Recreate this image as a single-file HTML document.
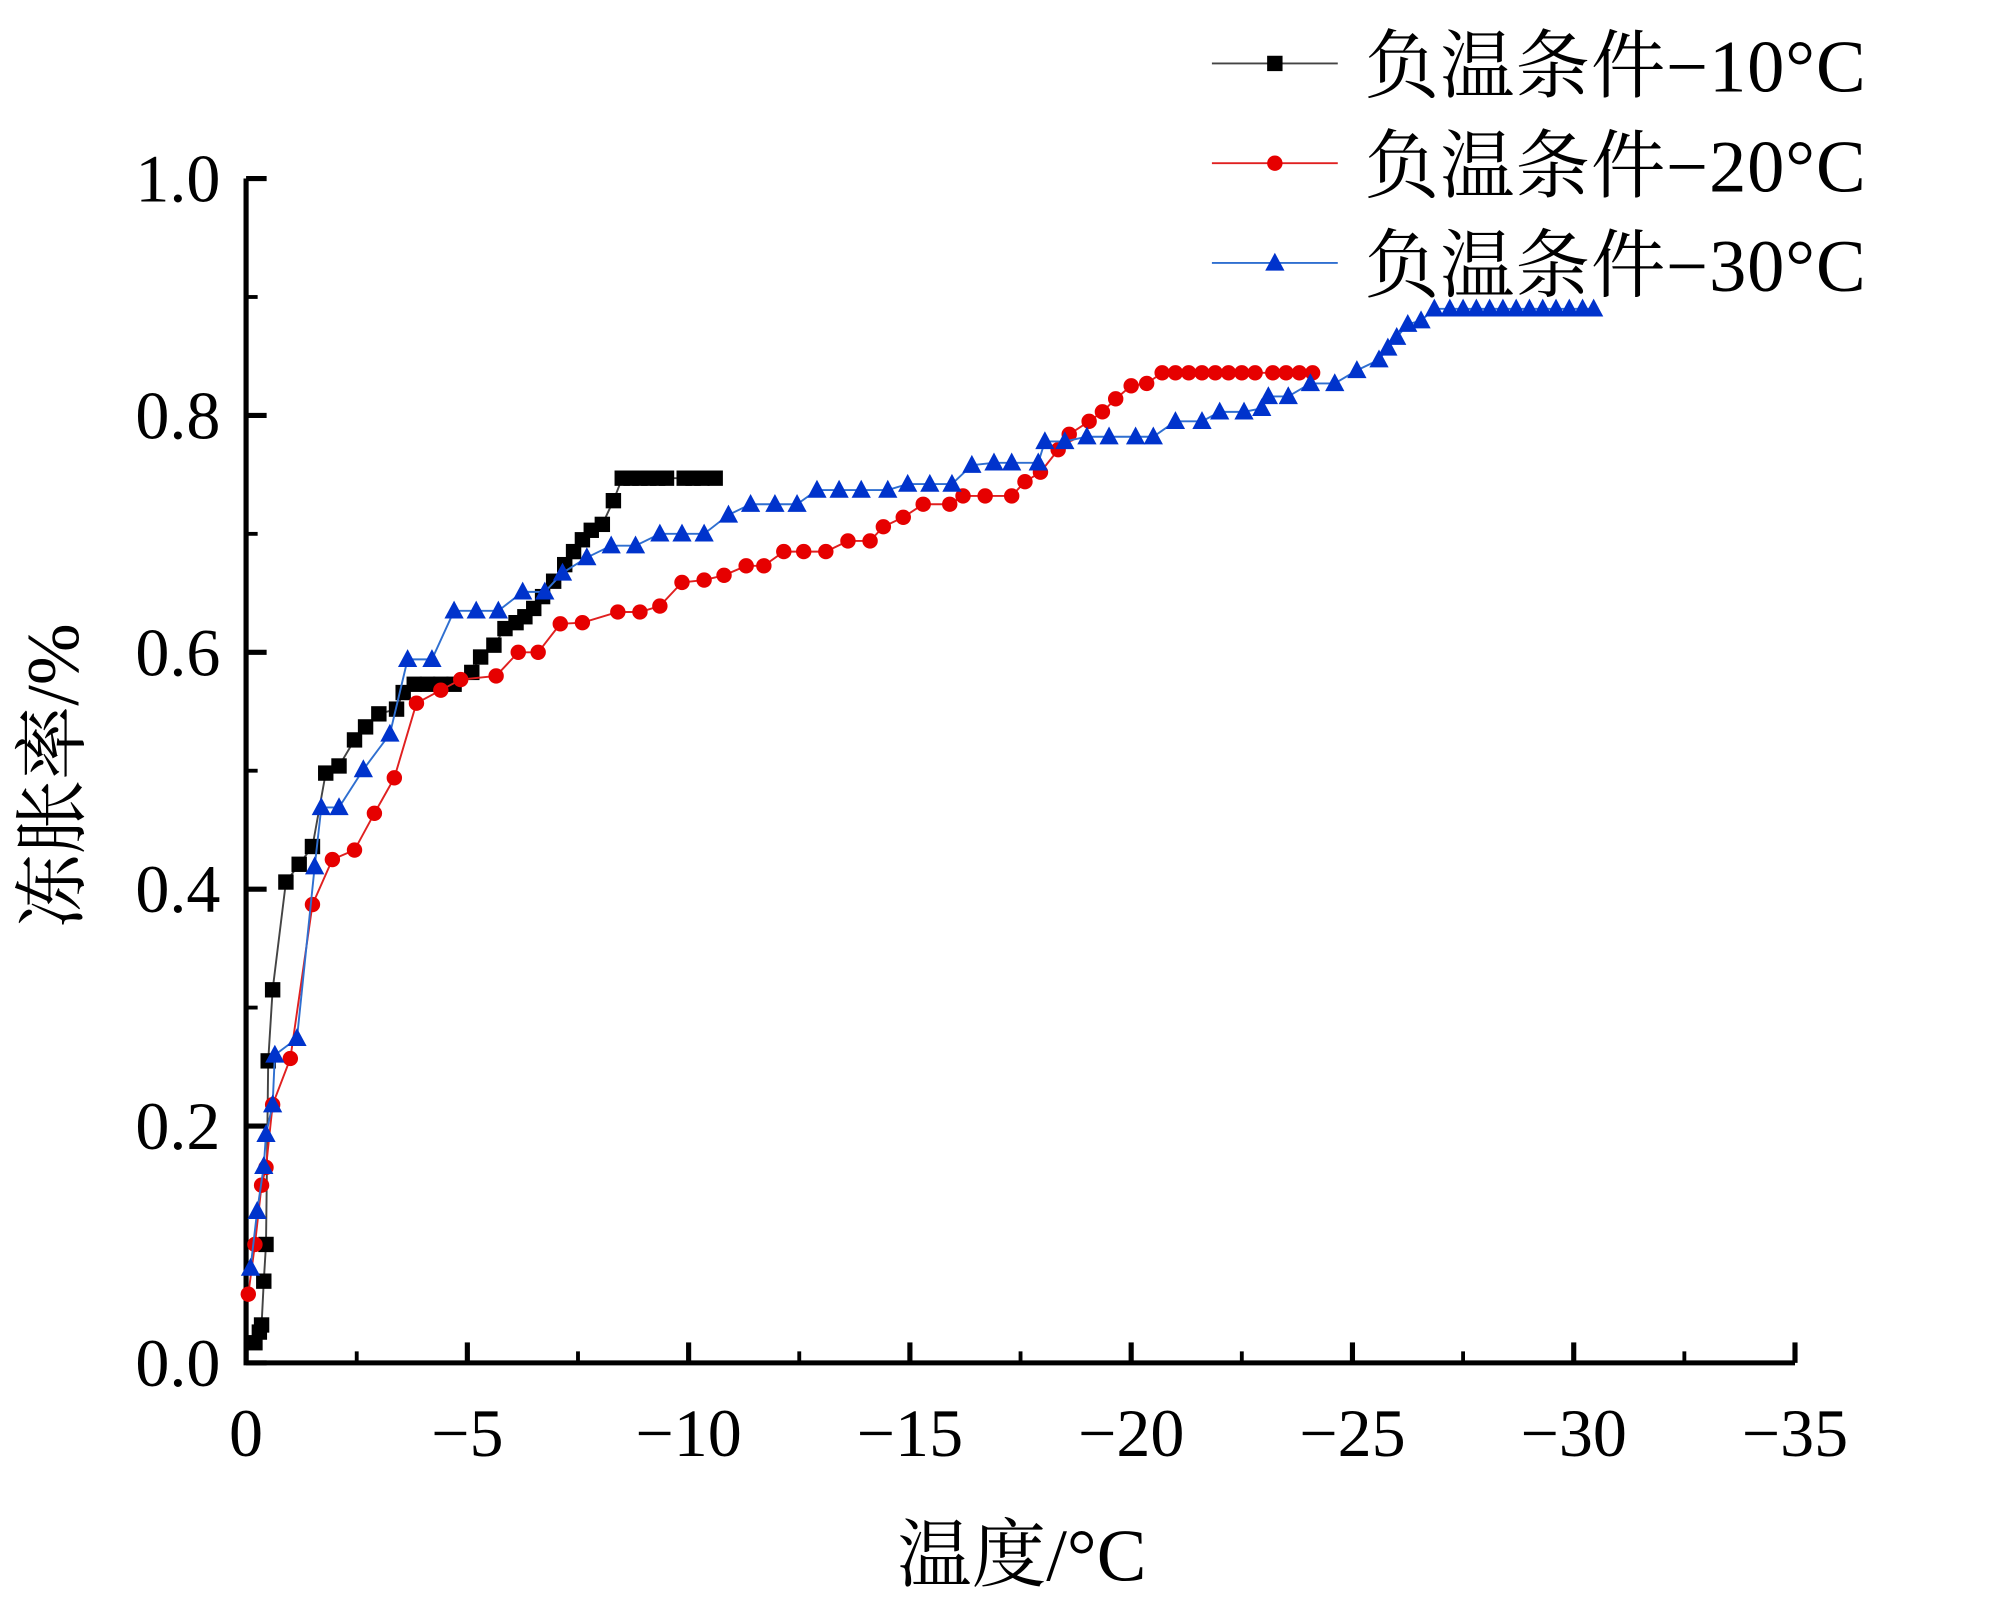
<!DOCTYPE html>
<html><head><meta charset="utf-8"><style>
html,body{margin:0;padding:0;background:#fff;}
svg{display:block;}
text{font-family:"Liberation Serif","Noto Serif CJK SC",serif;fill:#000;}
</style></head><body>
<svg id="chart" width="2010" height="1600" viewBox="1.4 -1.6 1565 1251" preserveAspectRatio="none" xmlns="http://www.w3.org/2000/svg">
<g id="axes"></g>
<g id="series"></g>
<g id="legend"></g>
<text x="797" y="1234" font-size="58" text-anchor="middle">温度/°C</text>
<text transform="translate(62,605) rotate(-90)" font-size="58" text-anchor="middle">冻胀率/%</text>
</svg>
<script>
const xTicks = [0,-5,-10,-15,-20,-25,-30,-35];
const xTickLabels = ["0","\u22125","\u221210","\u221215","\u221220","\u221225","\u221230","\u221235"];
const yTicks = [0,0.2,0.4,0.6,0.8,1.0];
const yTickLabels = ["0.0","0.2","0.4","0.6","0.8","1.0"];
const seriesNames = ["负温条件\u221210°C","负温条件\u221220°C","负温条件\u221230°C"];

const x10 = [-0.2,-0.3,-0.35,-0.4,-0.45,-0.5,-0.6,-0.9,-1.2,-1.5,-1.8,-2.1,-2.45,-2.7,-3.0,-3.4,-3.55,-3.8,-4.1,-4.4,-4.7,-5.1,-5.3,-5.6,-5.85,-6.1,-6.3,-6.5,-6.7,-6.95,-7.2,-7.4,-7.6,-7.8,-8.05,-8.3,-8.5,-8.7,-8.9,-9.1,-9.3,-9.5,-9.9,-10.1,-10.3,-10.6];
const y10 = [0.017,0.026,0.032,0.069,0.10,0.255,0.315,0.406,0.421,0.436,0.498,0.504,0.526,0.537,0.548,0.552,0.566,0.573,0.573,0.573,0.573,0.583,0.596,0.606,0.62,0.625,0.63,0.637,0.647,0.66,0.674,0.685,0.695,0.703,0.708,0.728,0.747,0.747,0.747,0.747,0.747,0.747,0.747,0.747,0.747,0.747];

const x20 = [-0.05,-0.2,-0.35,-0.45,-0.6,-1.0,-1.5,-1.95,-2.45,-2.9,-3.35,-3.85,-4.4,-4.85,-5.65,-6.15,-6.6,-7.1,-7.6,-8.4,-8.9,-9.35,-9.85,-10.35,-10.8,-11.3,-11.7,-12.15,-12.6,-13.1,-13.6,-14.1,-14.4,-14.85,-15.3,-15.9,-16.2,-16.7,-17.3,-17.6,-17.95,-18.35,-18.6,-19.05,-19.35,-19.65,-20.0,-20.35,-20.7,-21.0,-21.3,-21.6,-21.9,-22.2,-22.5,-22.8,-23.2,-23.5,-23.8,-24.1];
const y20 = [0.058,0.10,0.15,0.165,0.218,0.257,0.387,0.425,0.433,0.464,0.494,0.557,0.568,0.577,0.58,0.60,0.60,0.624,0.625,0.634,0.634,0.639,0.659,0.661,0.665,0.673,0.673,0.685,0.685,0.685,0.694,0.694,0.706,0.714,0.725,0.725,0.732,0.732,0.732,0.744,0.752,0.771,0.784,0.795,0.803,0.814,0.825,0.827,0.836,0.836,0.836,0.836,0.836,0.836,0.836,0.836,0.836,0.836,0.836,0.836];

const x30 = [-0.1,-0.25,-0.4,-0.45,-0.6,-0.65,-1.15,-1.55,-1.7,-2.1,-2.65,-3.25,-3.65,-4.2,-4.7,-5.2,-5.7,-6.25,-6.75,-7.15,-7.7,-8.25,-8.8,-9.35,-9.85,-10.35,-10.9,-11.4,-11.95,-12.45,-12.9,-13.4,-13.9,-14.5,-14.95,-15.45,-15.95,-16.4,-16.9,-17.3,-17.9,-18.05,-18.5,-19.0,-19.5,-20.1,-20.5,-21.0,-21.6,-22.0,-22.55,-22.95,-23.1,-23.55,-24.05,-24.6,-25.1,-25.6,-25.8,-26.0,-26.25,-26.55,-26.85,-27.2,-27.5,-27.8,-28.1,-28.4,-28.7,-29.0,-29.3,-29.6,-29.9,-30.2,-30.45];
const y30 = [0.08,0.128,0.166,0.193,0.218,0.26,0.274,0.419,0.469,0.469,0.501,0.531,0.594,0.594,0.635,0.635,0.635,0.651,0.651,0.667,0.68,0.69,0.69,0.70,0.70,0.70,0.716,0.725,0.725,0.725,0.737,0.737,0.737,0.737,0.742,0.742,0.742,0.758,0.76,0.76,0.76,0.778,0.778,0.782,0.782,0.782,0.782,0.795,0.795,0.803,0.803,0.806,0.816,0.816,0.827,0.827,0.838,0.847,0.857,0.866,0.877,0.88,0.89,0.89,0.89,0.89,0.89,0.89,0.89,0.89,0.89,0.89,0.89,0.89,0.89];

const NS = "http://www.w3.org/2000/svg";
const X0 = 193, XW = 1206, Y0 = 1064, YH = 926;
function sx(v){ return X0 + (-v/35)*XW; }
function sy(v){ return Y0 - v*YH; }
function mk(tag, attrs, parent){
  const e = document.createElementNS(NS, tag);
  for (const k in attrs) e.setAttribute(k, attrs[k]);
  parent.appendChild(e); return e;
}
const axes = document.getElementById('axes');
const series = document.getElementById('series');
const legend = document.getElementById('legend');

let a = mk('path', {d:`M${X0},${sy(1)} V${Y0} H${sx(-35)}`, fill:'none', stroke:'#000', 'stroke-width':4}, axes);



for (let i=0;i<xTicks.length;i++){
  const x = sx(xTicks[i]);
  const t = mk('line', {x1:x, y1:Y0, x2:x, y2:Y0-16, stroke:'#000','stroke-width':4}, axes);
  
  
  if (i < xTicks.length-1){
    const xm = sx(xTicks[i]-2.5);
    const m = mk('line', {x1:xm, y1:Y0, x2:xm, y2:Y0-9, stroke:'#000','stroke-width':3}, axes);
    
    
  }
  const l = mk('text', {x:x, y:1137, 'font-size':53, 'text-anchor':'middle'}, axes);
  l.textContent = xTickLabels[i];
  
  
}
for (let i=0;i<yTicks.length;i++){
  const y = sy(yTicks[i]);
  const t = mk('line', {x1:X0, y1:y, x2:X0+16, y2:y, stroke:'#000','stroke-width':4}, axes);
  
  
  if (i < yTicks.length-1){
    const ym = sy(yTicks[i]+0.1);
    const m = mk('line', {x1:X0, y1:ym, x2:X0+9, y2:ym, stroke:'#000','stroke-width':3}, axes);
    
    
  }
  const l = mk('text', {x:173, y:y+18, 'font-size':53, 'text-anchor':'end'}, axes);
  l.textContent = yTickLabels[i];
  
  
}

function marker(type, x, y, color, parent){
  let e;
  if (type==='sq') e = mk('rect', {x:x-6, y:y-6, width:12, height:12, fill:color}, parent);
  else if (type==='ci') e = mk('circle', {cx:x, cy:y, r:6, fill:color}, parent);
  else e = mk('path', {d:`M${x},${y-8} L${x+7.5},${y+6} L${x-7.5},${y+6} Z`, fill:color}, parent);
  return e;
}
const defs = [
  {xs:x10, ys:y10, line:'#444', color:'#000', m:'sq', n:'series-minus10'},
  {xs:x20, ys:y20, line:'#e02020', color:'#e60000', m:'ci', n:'series-minus20'},
  {xs:x30, ys:y30, line:'#2f6fd0', color:'#0033cc', m:'tr', n:'series-minus30'}
];
defs.forEach((d, si) => {
  const g = mk('g', {}, series);
  
  
  const pts = d.xs.map((v,i)=>sx(v)+','+sy(d.ys[i])).join(' ');
  const pl = mk('polyline', {points:pts, fill:'none', stroke:d.line, 'stroke-width':1.5}, g);
  
  
  d.xs.forEach((v,i)=>{
    const e = marker(d.m, sx(v), sy(d.ys[i]), d.color, g);
    
    
  });
  const ly = 48 + si*78;
  const lg = mk('g', {}, legend);
  
  
  mk('line', {x1:945, y1:ly, x2:1043, y2:ly, stroke:d.line, 'stroke-width':1.5}, lg);
  marker(d.m, 994, ly, d.color, lg);
  const t = mk('text', {x:1064, y:ly+22, 'font-size':58, textLength:390}, lg);
  t.textContent = seriesNames[si];
  
  
});
</script>
</body></html>
